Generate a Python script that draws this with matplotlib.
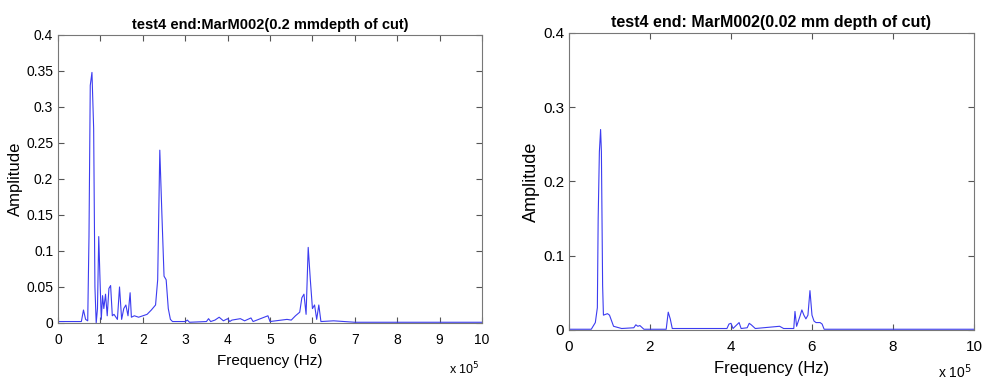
import matplotlib.pyplot as plt
from matplotlib.ticker import FuncFormatter

plt.rcParams["font.family"] = ["Liberation Sans", "DejaVu Sans"]

# frequency in units of 1e5 Hz, amplitude
freq_a = [0, 0.55, 0.6, 0.65, 0.7, 0.73, 0.76, 0.8, 0.84, 0.87, 0.9, 0.93, 0.96,
          0.99, 1.02, 1.05, 1.08, 1.12, 1.16, 1.2, 1.24, 1.28, 1.32, 1.4, 1.45,
          1.5, 1.55, 1.6, 1.65, 1.7, 1.73, 1.8, 1.9, 2.0, 2.1, 2.2, 2.3, 2.35,
          2.4, 2.45, 2.5, 2.55, 2.6, 2.65, 2.7, 3.0, 3.05, 3.1, 3.5, 3.55, 3.6,
          3.7, 3.8, 3.9, 4.0, 4.05, 4.1, 4.3, 4.4, 4.55, 4.6, 4.95, 5.0, 5.4,
          5.5, 5.6, 5.7, 5.75, 5.8, 5.85, 5.9, 5.95, 6.0, 6.05, 6.1, 6.15, 6.2,
          6.5, 7.0, 10.0]
amp_a = [0.002, 0.002, 0.018, 0.005, 0.003, 0.12, 0.33, 0.348, 0.27, 0.05, 0.0,
         0.02, 0.12, 0.06, 0.005, 0.038, 0.02, 0.04, 0.01, 0.048, 0.052, 0.01,
         0.012, 0.005, 0.05, 0.005, 0.02, 0.025, 0.01, 0.042, 0.008, 0.01,
         0.008, 0.01, 0.012, 0.018, 0.025, 0.06, 0.24, 0.15, 0.065, 0.06, 0.02,
         0.005, 0.002, 0.002, 0.004, 0.001, 0.002, 0.006, 0.002, 0.004, 0.008,
         0.003, 0.006, 0.002, 0.004, 0.006, 0.003, 0.007, 0.002, 0.01, 0.002,
         0.005, 0.004, 0.01, 0.015, 0.035, 0.04, 0.012, 0.105, 0.06, 0.02,
         0.025, 0.005, 0.025, 0.002, 0.003, 0.001, 0.001]

freq_b = [0, 0.55, 0.65, 0.7, 0.72, 0.75, 0.78, 0.8, 0.83, 0.85, 0.95, 1.0, 1.1,
          1.3, 1.6, 1.65, 1.7, 1.75, 1.85, 2.4, 2.45, 2.5, 2.55, 3.9, 3.95, 4.0,
          4.05, 4.2, 4.25, 4.4, 4.45, 4.5, 4.6, 5.2, 5.3, 5.55, 5.58, 5.62, 5.7,
          5.75, 5.8, 5.85, 5.9, 5.95, 6.0, 6.05, 6.1, 6.2, 6.25, 6.3, 10.0]
amp_b = [0.001, 0.001, 0.01, 0.03, 0.15, 0.24, 0.27, 0.24, 0.06, 0.02, 0.022,
         0.02, 0.005, 0.002, 0.003, 0.007, 0.005, 0.006, 0.001, 0.001, 0.024,
         0.015, 0.002, 0.002, 0.008, 0.009, 0.002, 0.01, 0.002, 0.003, 0.009,
         0.007, 0.002, 0.005, 0.002, 0.002, 0.025, 0.005, 0.018, 0.027, 0.02,
         0.015, 0.02, 0.053, 0.02, 0.012, 0.01, 0.01, 0.008, 0.001, 0.001]

titles = ["test4 end:MarM002(0.2 mmdepth of cut)",
          "test4 end: MarM002(0.02 mm depth of cut)"]

fig = plt.figure(figsize=(9.87, 3.83), dpi=100)
ax1 = fig.add_axes([0.0588, 0.1567, 0.4296, 0.752])
ax2 = fig.add_axes([0.5765, 0.1384, 0.4103, 0.7755])

specs = [
    (ax1, freq_a, amp_a, titles[0], [i * 0.05 for i in range(9)], 1e5, 10, 12,
     (0.995, -0.13)),
    (ax2, freq_b, amp_b, titles[1], [i * 0.1 for i in range(5)], 2e5, 11, 13,
     (0.995, -0.11)),
]
fmt_x = FuncFormatter(lambda v, p: f"{v / 1e5:g}")
fmt_y = FuncFormatter(lambda v, p: f"{v:.2f}".rstrip("0").rstrip(".") if v else "0")

for ax, f, a, title, yticks, xstep, fs, lfs, exp_pos in specs:
    ax.plot([v * 1e5 for v in f], a, color="#3c3cf0", linewidth=0.8)
    ax.set_xlim(0, 1e6)
    ax.set_ylim(0, 0.4)
    ax.set_xticks([i * xstep for i in range(int(1e6 / xstep) + 1)])
    ax.set_yticks(yticks)
    ax.xaxis.set_major_formatter(fmt_x)
    ax.yaxis.set_major_formatter(fmt_y)
    ax.tick_params(direction="in", top=True, right=True, length=4,
                   labelsize=fs, color="#555555")
    ax.tick_params(axis="x", pad=7)
    for s in ax.spines.values():
        s.set_color("#777777")
    ax.set_title(title, fontsize=fs + 0.5, fontweight="bold", pad=4)
    ax.set_xlabel("Frequency (Hz)", fontsize=lfs - 1, labelpad=5)
    ax.set_ylabel("Amplitude", fontsize=lfs, labelpad=2)
    ax.text(exp_pos[0], exp_pos[1], r"x 10$^5$", transform=ax.transAxes,
            ha="right", va="top", fontsize=fs - 1)

fig.savefig("out.png", dpi=100)
